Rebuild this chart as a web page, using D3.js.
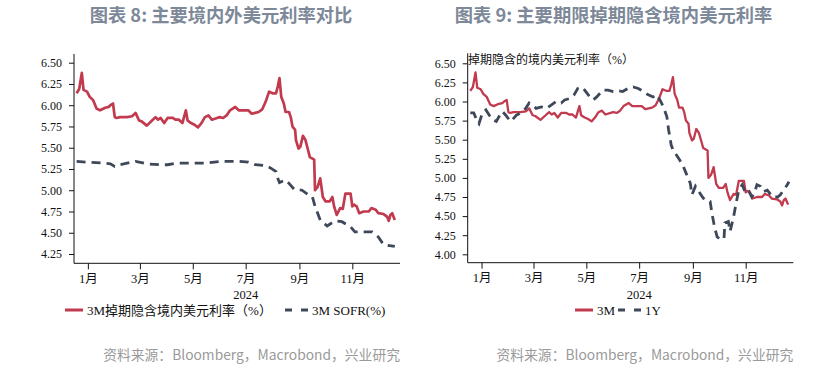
<!DOCTYPE html>
<html>
<head>
<meta charset="utf-8">
<script src="https://cdn.jsdelivr.net/npm/d3@7"></script>
<style>
  html, body { margin: 0; padding: 0; background: #ffffff; }
  svg { display: block; }
</style>
</head>
<body>
<svg id="chart" width="837" height="367"></svg>
<script>
// ---------- DATA ----------
const titles = ["图表 8: 主要境内外美元利率对比", "图表 9: 主要期限掉期隐含境内美元利率"];
const sourceText = "资料来源：Bloomberg，Macrobond，兴业研究";
const monthTickDates = ["2024-01-01", "2024-03-01", "2024-05-01", "2024-07-01", "2024-09-01", "2024-11-01"];
const monthTickLabels = ["1月", "3月", "5月", "7月", "9月", "11月"];
const yearLabel = "2024";
const leftYTicks = [4.25, 4.50, 4.75, 5.00, 5.25, 5.50, 5.75, 6.00, 6.25, 6.50];
const rightYTicks = [4.00, 4.25, 4.50, 4.75, 5.00, 5.25, 5.50, 5.75, 6.00, 6.25, 6.50];
const leftLegend = ["3M掉期隐含境内美元利率（%）", "3M SOFR(%)"];
const rightLegend = ["3M", "1Y"];
const rightInnerLabel = "掉期隐含的境内美元利率（%）";

const dates3M = ["2023-12-19","2023-12-22","2023-12-25","2023-12-27","2023-12-31","2024-01-03","2024-01-07","2024-01-11","2024-01-15","2024-01-21","2024-01-25","2024-01-27","2024-01-30","2024-02-01","2024-02-03","2024-02-07","2024-02-15","2024-02-21","2024-02-25","2024-02-29","2024-03-03","2024-03-09","2024-03-15","2024-03-19","2024-03-22","2024-03-25","2024-03-29","2024-04-02","2024-04-08","2024-04-11","2024-04-15","2024-04-19","2024-04-23","2024-04-25","2024-04-29","2024-05-03","2024-05-07","2024-05-11","2024-05-15","2024-05-19","2024-05-23","2024-05-29","2024-06-01","2024-06-05","2024-06-09","2024-06-13","2024-06-19","2024-06-23","2024-06-29","2024-07-04","2024-07-08","2024-07-12","2024-07-16","2024-07-20","2024-07-24","2024-07-28","2024-08-01","2024-08-05","2024-08-07","2024-08-09","2024-08-11","2024-08-14","2024-08-16","2024-08-20","2024-08-22","2024-08-24","2024-08-27","2024-08-28","2024-08-31","2024-09-02","2024-09-05","2024-09-08","2024-09-11","2024-09-13","2024-09-18","2024-09-19","2024-09-22","2024-09-25","2024-09-28","2024-10-01","2024-10-06","2024-10-09","2024-10-11","2024-10-14","2024-10-18","2024-10-21","2024-10-24","2024-10-30","2024-11-01","2024-11-03","2024-11-06","2024-11-09","2024-11-14","2024-11-20","2024-11-23","2024-11-28","2024-12-01","2024-12-07","2024-12-11","2024-12-13","2024-12-15","2024-12-17","2024-12-20"];
const values3M = [6.14,6.19,6.38,6.18,6.16,6.10,6.06,5.96,5.94,5.97,5.98,6.00,6.02,5.86,5.85,5.86,5.86,5.87,5.91,5.82,5.81,5.76,5.82,5.86,5.83,5.85,5.79,5.85,5.85,5.83,5.83,5.79,5.94,5.82,5.79,5.77,5.74,5.79,5.86,5.88,5.83,5.85,5.86,5.85,5.88,5.94,5.98,5.94,5.94,5.94,5.90,5.91,5.92,5.95,6.04,6.16,6.14,6.14,6.22,6.32,6.10,6.02,5.92,5.92,5.86,5.75,5.71,5.59,5.49,5.51,5.64,5.59,5.47,5.39,5.36,5.00,5.04,5.14,4.92,4.87,4.87,4.92,4.81,4.71,4.79,4.78,4.96,4.96,4.81,4.83,4.81,4.73,4.75,4.75,4.79,4.77,4.73,4.72,4.69,4.64,4.71,4.73,4.65];

const datesSOFR = ["2023-12-19","2023-12-31","2024-01-19","2024-01-27","2024-02-01","2024-02-07","2024-02-25","2024-03-09","2024-03-25","2024-04-02","2024-04-14","2024-04-25","2024-05-15","2024-06-03","2024-06-23","2024-07-04","2024-07-12","2024-07-24","2024-07-30","2024-08-05","2024-08-07","2024-08-09","2024-08-16","2024-08-20","2024-08-26","2024-09-04","2024-09-12","2024-09-16","2024-09-19","2024-09-25","2024-10-03","2024-10-12","2024-10-20","2024-10-30","2024-11-04","2024-11-24","2024-12-01","2024-12-07","2024-12-20"];
const valuesSOFR = [5.34,5.33,5.32,5.31,5.28,5.30,5.34,5.31,5.30,5.30,5.32,5.32,5.32,5.34,5.34,5.33,5.30,5.29,5.26,5.22,5.14,5.09,5.12,5.08,5.01,5.00,4.94,4.92,4.81,4.65,4.58,4.64,4.63,4.57,4.51,4.51,4.45,4.36,4.34];

const dates1Y = ["2023-12-19","2023-12-23","2023-12-27","2023-12-29","2024-01-02","2024-01-06","2024-01-10","2024-01-14","2024-01-18","2024-01-22","2024-01-25","2024-01-29","2024-02-02","2024-02-04","2024-02-10","2024-02-15","2024-02-21","2024-02-25","2024-02-29","2024-03-04","2024-03-10","2024-03-16","2024-03-21","2024-03-27","2024-04-02","2024-04-06","2024-04-12","2024-04-17","2024-04-21","2024-04-25","2024-04-29","2024-05-05","2024-05-09","2024-05-13","2024-05-17","2024-05-20","2024-05-26","2024-06-01","2024-06-07","2024-06-12","2024-06-18","2024-06-24","2024-06-30","2024-07-06","2024-07-11","2024-07-17","2024-07-21","2024-07-25","2024-07-29","2024-08-02","2024-08-04","2024-08-07","2024-08-09","2024-08-13","2024-08-17","2024-08-21","2024-08-25","2024-08-29","2024-08-31","2024-09-04","2024-09-07","2024-09-12","2024-09-15","2024-09-21","2024-09-23","2024-09-26","2024-09-29","2024-10-03","2024-10-07","2024-10-08","2024-10-12","2024-10-14","2024-10-18","2024-10-21","2024-10-24","2024-10-28","2024-11-01","2024-11-05","2024-11-08","2024-11-11","2024-11-14","2024-11-18","2024-11-22","2024-11-26","2024-12-02","2024-12-08","2024-12-11","2024-12-15","2024-12-19","2024-12-21"];
const values1Y = [5.85,5.85,5.74,5.71,5.85,5.89,5.82,5.76,5.74,5.82,5.87,5.82,5.76,5.74,5.82,5.85,5.91,5.98,5.95,5.91,5.93,5.91,5.95,6.00,5.98,6.02,6.04,6.09,6.17,6.19,6.15,6.06,6.02,6.06,6.11,6.15,6.15,6.13,6.14,6.13,6.17,6.19,6.17,6.13,6.09,6.06,6.09,6.02,5.93,5.80,5.63,5.43,5.37,5.30,5.23,5.15,5.04,4.93,4.78,4.89,4.84,4.75,4.71,4.69,4.54,4.36,4.23,4.19,4.21,4.41,4.43,4.30,4.49,4.67,4.84,4.91,4.80,4.82,4.75,4.80,4.91,4.89,4.82,4.84,4.75,4.75,4.78,4.84,4.91,4.95];

// ---------- STYLE ----------
const RED = "#c23a4e";
const GRAY = "#3e4859";
const serif = "'Liberation Serif', 'Noto Sans CJK SC', serif";
const cjk = "'Noto Sans CJK SC', sans-serif";

const parse = d3.timeParse("%Y-%m-%d");
const zip = (ds, vs) => ds.map((d, i) => ({ date: parse(d), value: vs[i] }));
const s3M = zip(dates3M, values3M);
const sSOFR = zip(datesSOFR, valuesSOFR);
const s1Y = zip(dates1Y, values1Y);

const svg = d3.select("#chart");
const xDomain = [parse("2023-12-16"), parse("2024-12-26")];

function panel(o) {
  const g = svg.append("g");
  const x = d3.scaleTime().domain(xDomain).range([o.left, o.right]);
  // y scale anchored on lowest and highest tick positions
  const y = d3.scaleLinear()
    .domain([o.yTicks[0], o.yTicks[o.yTicks.length - 1]])
    .range([o.lowTickY, o.highTickY]);

  // title
  svg.append("text")
    .attr("x", o.titleX).attr("y", 21.5)
    .attr("text-anchor", "middle")
    .style("font-family", cjk).style("font-size", "18.3px").style("font-weight", "bold")
    .style("fill", "#7d8898")
    .text(o.title);

  // y axis
  const ya = g.append("g").attr("transform", `translate(${o.left},0)`)
    .call(d3.axisLeft(y).tickValues(o.yTicks).tickFormat(d3.format(".2f")).tickSize(5).tickPadding(7));
  ya.select(".domain").remove();
  ya.selectAll("text").style("font-family", serif).style("font-size", "12px").style("fill", "#111");
  ya.selectAll("line").style("stroke", "#111");
  g.append("line").attr("x1", o.left).attr("x2", o.left)
    .attr("y1", o.axisTop).attr("y2", o.bottom).style("stroke", "#111").style("stroke-width", 1);

  // x axis
  const xa = g.append("g").attr("transform", `translate(0,${o.bottom})`)
    .call(d3.axisBottom(x).tickValues(monthTickDates.map(parse))
      .tickFormat((d, i) => monthTickLabels[i]).tickSize(6).tickPadding(4.5));
  xa.select(".domain").remove();
  xa.selectAll("text").style("font-family", serif).style("font-size", "12.5px").style("fill", "#111");
  xa.selectAll("line").style("stroke", "#111");
  g.append("line").attr("x1", o.left).attr("x2", o.right)
    .attr("y1", o.bottom).attr("y2", o.bottom).style("stroke", "#111").style("stroke-width", 1);

  g.append("text")
    .attr("x", x(parse("2024-07-01"))).attr("y", o.bottom + 36)
    .attr("text-anchor", "middle")
    .style("font-family", serif).style("font-size", "12.5px").style("fill", "#111")
    .text(yearLabel);

  // lines
  const line = d3.line().x(d => x(d.date)).y(d => y(d.value));
  g.append("path").datum(o.solid).attr("d", line)
    .style("fill", "none").style("stroke", RED).style("stroke-width", o.solidWidth).style("stroke-linejoin", "round");
  g.append("path").datum(o.dashed).attr("d", line)
    .style("fill", "none").style("stroke", GRAY).style("stroke-width", 2.8).style("stroke-dasharray", "9,6");

  // legend
  const ly = 310;
  const lg = g.append("g").style("font-family", serif).style("font-size", o.legendFont).style("fill", "#111");
  lg.append("line").attr("x1", o.leg[0]).attr("x2", o.leg[1]).attr("y1", ly).attr("y2", ly)
    .style("stroke", RED).style("stroke-width", 3);
  lg.append("text").attr("x", o.leg[2]).attr("y", ly).attr("dy", "0.35em").text(o.legendLabels[0]);
  lg.append("line").attr("x1", o.leg[3]).attr("x2", o.leg[4]).attr("y1", ly).attr("y2", ly)
    .style("stroke", GRAY).style("stroke-width", 3).style("stroke-dasharray", "7,9");
  lg.append("text").attr("x", o.leg[5]).attr("y", ly).attr("dy", "0.35em").text(o.legendLabels[1]);

  // source
  svg.append("text")
    .attr("x", o.right).attr("y", 360)
    .attr("text-anchor", "end")
    .style("font-family", cjk).style("font-size", "13.8px").style("fill", "#9a9a9a")
    .text(sourceText);

  return { g, x, y };
}

panel({
  left: 74, right: 400, bottom: 263.3, axisTop: 54,
  lowTickY: 254, highTickY: 62.7,
  yTicks: leftYTicks, solid: s3M, dashed: sSOFR, solidWidth: 2.7,
  title: titles[0], titleX: 221,
  legendLabels: leftLegend, legendFont: "13px",
  leg: [65, 83, 87, 285, 308, 312]
});

const R = panel({
  left: 467.7, right: 793.3, bottom: 262.7, axisTop: 53.3,
  lowTickY: 254.3, highTickY: 63.3,
  yTicks: rightYTicks, solid: s3M, dashed: s1Y, solidWidth: 2.3,
  title: titles[1], titleX: 613.5,
  legendLabels: rightLegend, legendFont: "13px",
  leg: [575, 593, 597, 618, 641, 645]
});

R.g.append("text")
  .attr("x", 468).attr("y", 60).attr("dy", "0.35em")
  .style("font-family", serif).style("font-size", "12px").style("fill", "#111")
  .text(rightInnerLabel);
</script>
</body>
</html>
